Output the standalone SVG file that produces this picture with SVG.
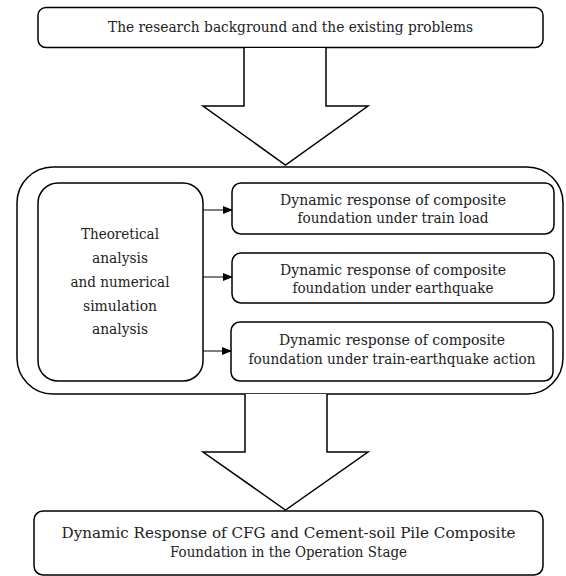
<svg xmlns="http://www.w3.org/2000/svg" width="566" height="576" viewBox="0 0 566 576">
<style>
.box{fill:#fff;stroke:#000;stroke-width:1.5}
.arr{fill:#fff;stroke:#000;stroke-width:1.5;stroke-linejoin:miter}
text{font-family:"DejaVu Serif","Liberation Serif",serif;font-size:14.5px;fill:#222;text-anchor:middle}
.ln{stroke:#000;stroke-width:1}
</style>
<defs>
<marker id="ah" markerWidth="10" markerHeight="8" refX="9" refY="4" orient="auto" markerUnits="userSpaceOnUse">
<path d="M0,0 L10,4 L0,8 Z" fill="#000"/>
</marker>
</defs>
<rect width="566" height="576" fill="#fff"/>
<g id="top">
<rect class="box" x="38" y="7.5" width="505" height="40" rx="8"/>
<text x="290.5" y="32" textLength="365" lengthAdjust="spacingAndGlyphs">The research background and the existing problems</text>
</g>
<g id="arrow1">
<path class="arr" d="M244,48 L244,106 L203,106 L285.5,165 L368,106 L326,106 L326,48"/>
</g>
<g id="outer">
<rect class="box" x="17" y="167" width="546" height="227" rx="36"/>
</g>
<g id="left">
<rect class="box" x="38" y="183" width="165" height="198" rx="20"/>
<text x="120" y="239" textLength="78" lengthAdjust="spacingAndGlyphs">Theoretical</text>
<text x="120" y="263" textLength="56" lengthAdjust="spacingAndGlyphs">analysis</text>
<text x="120" y="287" textLength="99" lengthAdjust="spacingAndGlyphs">and numerical</text>
<text x="120" y="311" textLength="74" lengthAdjust="spacingAndGlyphs">simulation</text>
<text x="120" y="334" textLength="56" lengthAdjust="spacingAndGlyphs">analysis</text>
</g>
<g id="r1">
<rect class="box" x="232" y="183" width="322" height="51" rx="9"/>
<text x="393" y="205" textLength="226" lengthAdjust="spacingAndGlyphs">Dynamic response of composite</text>
<text x="393" y="223" textLength="191" lengthAdjust="spacingAndGlyphs">foundation under train load</text>
</g>
<g id="r2">
<rect class="box" x="232" y="253" width="322" height="50" rx="9"/>
<text x="393" y="275" textLength="226" lengthAdjust="spacingAndGlyphs">Dynamic response of composite</text>
<text x="393" y="293" textLength="201" lengthAdjust="spacingAndGlyphs">foundation under earthquake</text>
</g>
<g id="r3">
<rect class="box" x="231" y="322" width="322" height="59" rx="9"/>
<text x="392" y="345" textLength="226" lengthAdjust="spacingAndGlyphs">Dynamic response of composite</text>
<text x="392" y="364" textLength="287" lengthAdjust="spacingAndGlyphs">foundation under train-earthquake action</text>
</g>
<g id="connectors">
<line class="ln" x1="203" y1="210" x2="232" y2="210" marker-end="url(#ah)"/>
<line class="ln" x1="203" y1="277" x2="232" y2="277" marker-end="url(#ah)"/>
<line class="ln" x1="203" y1="351" x2="231" y2="351" marker-end="url(#ah)"/>
</g>
<g id="arrow2">
<path class="arr" d="M245,394 L245,452 L203,452 L285.5,510 L368,452 L327,452 L327,394"/>
</g>
<g id="bottom">
<rect class="box" x="34" y="511" width="509" height="64" rx="9"/>
<text x="288.5" y="538" textLength="454" lengthAdjust="spacingAndGlyphs">Dynamic Response of CFG and Cement-soil Pile Composite</text>
<text x="288.5" y="557" textLength="237" lengthAdjust="spacingAndGlyphs">Foundation in the Operation Stage</text>
</g>
</svg>
